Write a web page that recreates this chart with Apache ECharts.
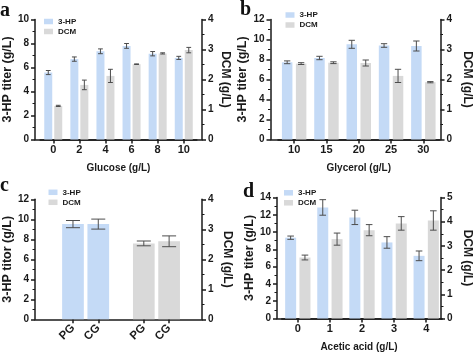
<!DOCTYPE html>
<html>
<head>
<meta charset="utf-8">
<script src="https://cdn.jsdelivr.net/npm/echarts@6/dist/echarts.min.js"></script>
<style>html,body{margin:0;padding:0;background:#fff;}#c{width:474px;height:354px;}</style>
</head>
<body>
<div id="c"></div>
<script>
// ---------- data ----------
const seriesNames = ['3-HP', 'DCM'];
// Panel a: glucose
const glucoseCats = ['0', '2', '4', '6', '8', '10'];
const aHP = [5.58, 6.7, 7.35, 7.8, 7.15, 6.8];
const aHPErr = [0.17, 0.18, 0.2, 0.2, 0.18, 0.13];
const aDCM = [1.12, 1.82, 2.12, 2.51, 2.87, 2.98];
const aDCMErr = [0.02, 0.16, 0.22, 0.01, 0.02, 0.09];
// Panel b: glycerol
const glycerolCats = ['10', '15', '20', '25', '30'];
const bHP = [7.72, 8.15, 9.52, 9.4, 9.35];
const bHPErr = [0.14, 0.17, 0.4, 0.18, 0.5];
const bDCM = [2.53, 2.56, 2.55, 2.12, 1.91];
const bDCMErr = [0.03, 0.03, 0.1, 0.22, 0.02];
// Panel c: PG / CG
const cCats = ['PG', 'CG'];
const cHP = [9.52, 9.52];
const cHPErr = [0.36, 0.5];
const cDCM = [2.53, 2.6];
const cDCMErr = [0.08, 0.18];
// Panel d: acetic acid
const aceticCats = ['0', '1', '2', '3', '4'];
const dHP = [9.35, 12.85, 11.7, 8.8, 7.25];
const dHPErr = [0.19, 0.9, 0.83, 0.67, 0.56];
const dDCM = [2.52, 3.28, 3.65, 3.93, 4.05];
const dDCMErr = [0.1, 0.25, 0.23, 0.28, 0.4];

// ---------- styles ----------
const FONT = "'Liberation Sans', Arial, Helvetica, sans-serif";
const AX = '#1a1a1a';
const BLUE = '#c4daf6';
const GREY = '#d9d9d9';
const ERR = '#4d4d4d';

const grids = [], xAxes = [], yAxes = [], series = [], legends = [], titles = [];

function visYAxis(gi, pos, max, interval, name, gap) {
  return {
    type: 'value', gridIndex: gi, position: pos, min: 0, max: max, interval: interval,
    name: name, nameLocation: 'middle', nameGap: gap, nameRotate: pos === 'left' ? 90 : -90,
    nameTextStyle: {fontSize: pos === 'left' ? 12.5 : 12, fontWeight: 'bold', fontFamily: FONT, color: AX},
    axisLine: {show: true, lineStyle: {color: AX, width: 1.5}},
    axisTick: {show: true, length: 4, lineStyle: {color: AX, width: 1.5}},
    minorTick: {show: true, splitNumber: 2, length: 2.5, lineStyle: {color: AX, width: 1}},
    axisLabel: {fontSize: 10, fontWeight: 'bold', fontFamily: FONT, color: AX, margin: 6},
    splitLine: {show: false}, minorSplitLine: {show: false}
  };
}
function hidYAxis(gi, max) {
  return {type: 'value', gridIndex: gi, min: 0, max: max, show: false, splitLine: {show: false}};
}
function errorBar(offset, cap) {
  return function (params, api) {
    const i = api.value(0), v = api.value(1), e = api.value(2);
    const t = api.coord([i, v + e]);
    const b = api.coord([i, v - e]);
    const x = t[0] + offset;
    const st = {stroke: ERR, lineWidth: 1};
    return {type: 'group', children: [
      {type: 'line', shape: {x1: x, y1: t[1], x2: x, y2: b[1]}, style: st},
      {type: 'line', shape: {x1: x - cap / 2, y1: t[1], x2: x + cap / 2, y2: t[1]}, style: st},
      {type: 'line', shape: {x1: x - cap / 2, y1: b[1], x2: x + cap / 2, y2: b[1]}, style: st}
    ]};
  };
}
function errData(vals, errs, idx) { return vals.map((v, i) => [idx ? idx[i] : i, v, errs[i]]); }

function frame(p) {
  const gi = grids.length;
  grids.push({left: p.left, top: p.top, width: p.width, height: p.height});
  xAxes.push({
    type: 'value', gridIndex: gi, min: 0, max: 1,
    axisLine: {show: true, lineStyle: {color: AX, width: 1.5}},
    axisTick: {show: false}, axisLabel: {show: false}, splitLine: {show: false},
    name: p.xName || '', nameLocation: 'middle', nameGap: p.xNameGap || 24,
    nameTextStyle: {fontSize: 10, fontWeight: 'bold', fontFamily: FONT, color: AX}
  });
  yAxes.push(visYAxis(gi, 'left', p.lmax, 2, p.lname, p.lgap));
  yAxes.push(visYAxis(gi, 'right', p.rmax, 1, 'DCM (g/L)', p.rgap));
}
function dataGrid(p) {
  const gi = grids.length;
  grids.push({left: p.left, top: p.top, width: p.width, height: p.height});
  const xi = xAxes.length;
  xAxes.push({
    type: 'category', gridIndex: gi, data: p.cats,
    axisLine: {show: true, lineStyle: {color: AX, width: 1.5}},
    axisTick: {show: true, alignWithLabel: true, length: 4, lineStyle: {color: AX, width: 1.5}},
    axisLabel: {fontSize: 11, fontWeight: 'bold', fontFamily: FONT, color: AX, margin: 5, interval: 0},
    name: p.xName || '', nameLocation: 'middle', nameGap: p.xNameGap || 24,
    nameTextStyle: {fontSize: 10, fontWeight: 'bold', fontFamily: FONT, color: AX}
  });
  const yl = yAxes.length;
  yAxes.push(hidYAxis(gi, p.lmax));
  const yr = yAxes.length;
  yAxes.push(hidYAxis(gi, p.rmax));
  return {xi: xi, yl: yl, yr: yr};
}
function pairSeries(ax, hp, hpErr, dcm, dcmErr, w, gapFrac) {
  const off = (w + w * gapFrac) / 2;
  const cap = w * 0.6;
  series.push({type: 'bar', name: seriesNames[0], xAxisIndex: ax.xi, yAxisIndex: ax.yl, data: hp,
    barWidth: w, barGap: (gapFrac * 100) + '%', itemStyle: {color: BLUE}});
  series.push({type: 'bar', name: seriesNames[1], xAxisIndex: ax.xi, yAxisIndex: ax.yr, data: dcm,
    barWidth: w, barGap: (gapFrac * 100) + '%', itemStyle: {color: GREY}});
  series.push({type: 'custom', xAxisIndex: ax.xi, yAxisIndex: ax.yl, z: 5, data: errData(hp, hpErr),
    encode: {x: 0, y: 1}, renderItem: errorBar(-off, cap)});
  series.push({type: 'custom', xAxisIndex: ax.xi, yAxisIndex: ax.yr, z: 5, data: errData(dcm, dcmErr),
    encode: {x: 0, y: 1}, renderItem: errorBar(off, cap)});
}
function legendAt(left, top, gap) {
  legends.push({data: seriesNames, left: left, top: top, orient: 'vertical', icon: 'rect',
    itemWidth: 9, itemHeight: 5.5, itemGap: gap, padding: 0, selectedMode: false,
    textStyle: {fontSize: 8, fontWeight: 'bold', fontFamily: FONT, color: AX, lineHeight: 8}});
}
function letter(t, left, top) {
  titles.push({text: t, left: left, top: top, padding: 0,
    textStyle: {fontSize: 20, fontWeight: 'bold', fontFamily: "'Liberation Serif', 'Times New Roman', serif", color: '#111'}});
}

// ---------- panel a ----------
frame({left: 32, top: 19.5, width: 170, height: 120, lmax: 10, rmax: 4,
  lname: '3-HP titer (g/L)', lgap: 12, rgap: 17});
pairSeries(dataGrid({left: 40.2, top: 19.5, width: 156.6, height: 120, cats: glucoseCats, lmax: 10, rmax: 4,
  xName: 'Glucose (g/L)', xNameGap: 24}), aHP, aHPErr, aDCM, aDCMErr, 8, 0.25);
legendAt(44, 17.5, 2);
letter('a', 0, 1);

// ---------- panel b ----------
frame({left: 270.5, top: 19.5, width: 170, height: 120, lmax: 12, rmax: 4,
  lname: '3-HP titer (g/L)', lgap: 14, rgap: 20.5});
pairSeries(dataGrid({left: 278, top: 19.5, width: 161.5, height: 120, cats: glycerolCats, lmax: 12, rmax: 4,
  xName: 'Glycerol (g/L)', xNameGap: 24}), bHP, bHPErr, bDCM, bDCMErr, 10.5, 0.33);
legendAt(285.5, 11, 2);
letter('b', 240, 0);

// ---------- panel c (single grid, fine category slots for the grouped layout) ----------
const cLabelJobs = [];
(function () {
  const SLOTS = 33;
  const hpSlot = [7, 12], dcmSlot = [21, 26];
  const slotCats = new Array(SLOTS).fill('');
  hpSlot.forEach((s, i) => { slotCats[s] = cCats[i]; });
  dcmSlot.forEach((s, i) => { slotCats[s] = cCats[i]; });
  const hpData = new Array(SLOTS).fill('-');
  hpSlot.forEach((s, i) => { hpData[s] = cHP[i]; });
  const dcmData = new Array(SLOTS).fill('-');
  dcmSlot.forEach((s, i) => { dcmData[s] = cDCM[i]; });
  const shown = function (idx, val) { return val !== ''; };

  const gi = grids.length;
  grids.push({left: 32, top: 199.3, width: 170, height: 120});
  const xi = xAxes.length;
  xAxes.push({
    type: 'category', gridIndex: gi, data: slotCats,
    axisLine: {show: true, lineStyle: {color: AX, width: 1.5}},
    axisTick: {show: true, alignWithLabel: true, interval: shown, length: 4, lineStyle: {color: AX, width: 1.5}},
    axisLabel: {show: false}
  });
  const yl = yAxes.length;
  yAxes.push(visYAxis(gi, 'left', 12, 2, '3-HP titor (g/L)', 12.5));
  const yr = yAxes.length;
  yAxes.push(visYAxis(gi, 'right', 4, 1, 'DCM (g/L)', 19.5));
  const hpIdx = series.length;
  series.push({type: 'bar', name: seriesNames[0], xAxisIndex: xi, yAxisIndex: yl, data: hpData,
    barWidth: 21.7, barGap: '-100%', itemStyle: {color: BLUE}});
  const dcmIdx = series.length;
  series.push({type: 'bar', name: seriesNames[1], xAxisIndex: xi, yAxisIndex: yr, data: dcmData,
    barWidth: 21.7, barGap: '-100%', itemStyle: {color: GREY}});
  series.push({type: 'custom', xAxisIndex: xi, yAxisIndex: yl, z: 5, data: errData(cHP, cHPErr, hpSlot),
    encode: {x: 0, y: 1}, renderItem: errorBar(0, 14)});
  series.push({type: 'custom', xAxisIndex: xi, yAxisIndex: yr, z: 5, data: errData(cDCM, cDCMErr, dcmSlot),
    encode: {x: 0, y: 1}, renderItem: errorBar(0, 14)});
  hpSlot.forEach((s, i) => cLabelJobs.push({series: hpIdx, slot: s, text: cCats[i]}));
  dcmSlot.forEach((s, i) => cLabelJobs.push({series: dcmIdx, slot: s, text: cCats[i]}));
})();
legendAt(48.5, 188.3, 2);
letter('c', 0, 176);

// ---------- panel d ----------
frame({left: 277, top: 197.5, width: 167, height: 121, lmax: 14, rmax: 5,
  lname: '3-HP titer (g/L)', lgap: 18, rgap: 20, xName: 'Acetic acid (g/L)', xNameGap: 23.5});
pairSeries(dataGrid({left: 281.75, top: 197.5, width: 160.5, height: 121, cats: aceticCats, lmax: 14, rmax: 5}),
  dHP, dHPErr, dDCM, dDCMErr, 11, 0.3);
legendAt(284, 188.8, 2);
letter('d', 243, 182);

const chart = echarts.init(document.getElementById('c'), null, {renderer: 'canvas'});
chart.setOption({
  animation: false,
  backgroundColor: '#ffffff',
  title: titles,
  legend: legends,
  grid: grids,
  xAxis: xAxes,
  yAxis: yAxes,
  series: series
});

// rotated category labels for panel c, placed at the axis positions computed by ECharts
const cLabels = cLabelJobs.map(function (job) {
  const pt = chart.convertToPixel({seriesIndex: job.series}, [job.slot, 0]);
  return {
    type: 'text', x: pt[0], y: pt[1] + 7, rotation: Math.PI / 4, silent: true, z: 10,
    style: {
      text: job.text, fill: AX,
      font: "bold 11.5px 'Liberation Sans', Arial, sans-serif",
      align: 'right', verticalAlign: 'middle',
      textAlign: 'right', textVerticalAlign: 'middle'
    }
  };
});
chart.setOption({graphic: {elements: cLabels}});
</script>
</body>
</html>
